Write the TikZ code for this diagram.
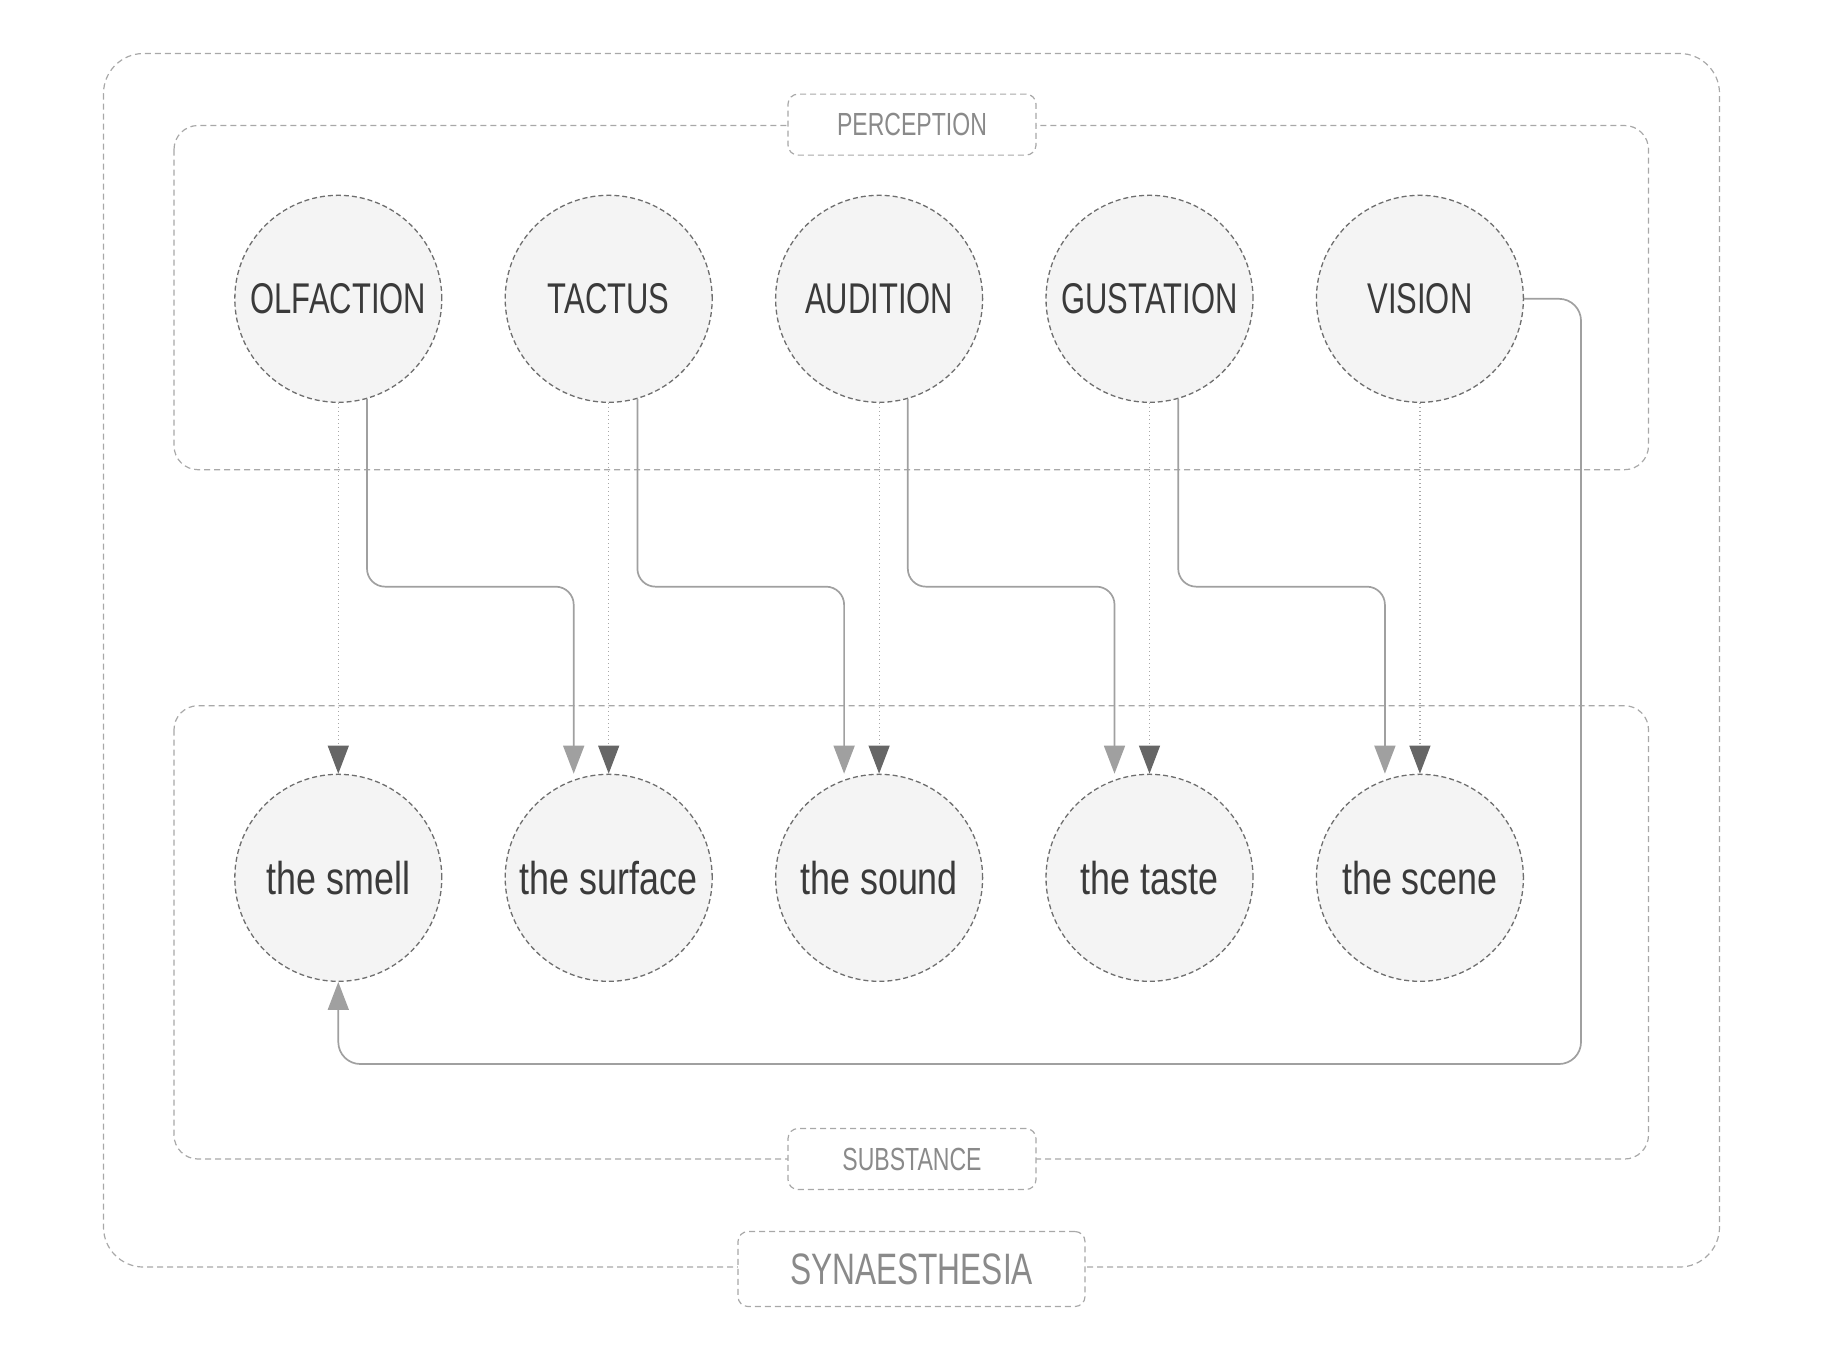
\documentclass[tikz,border=0pt]{standalone}
\usepackage{fontspec}
\setmainfont{Liberation Sans}[FakeStretch=0.78]
\newfontfamily\capsfont{Liberation Sans}[FakeStretch=0.72]
\usetikzlibrary{positioning, arrows.meta, calc}

\definecolor{ringline}{HTML}{6E6E6E}
\definecolor{ringfill}{HTML}{F4F4F4}
\definecolor{frameline}{HTML}{A8A8A8}
\definecolor{labeltext}{HTML}{8A8A8A}
\definecolor{sensetext}{HTML}{3A3A3A}
\definecolor{flowline}{HTML}{A0A0A0}
\definecolor{hintline}{HTML}{A8A8A8}
\definecolor{hinttip}{HTML}{666666}

\begin{document}
\begin{tikzpicture}[x=0.5pt, y=-0.5pt, node distance=135.2pt,
    sense/.style={circle, draw=ringline, fill=ringfill, line width=0.65pt,
      dash pattern=on 2.5pt off 1.5pt, minimum size=103.5pt, inner sep=0pt,
      text=sensetext},
    frame/.style={draw=frameline, line width=0.6pt, dash pattern=on 3pt off 2pt},
    tag/.style={frame, fill=white, rounded corners=5pt, text=labeltext,
      minimum width=124pt, minimum height=30.5pt, font=\capsfont\fontsize{16}{18}\selectfont},
    flow/.style={draw=flowline, line width=0.85pt, rounded corners=9pt,
      -{Triangle[length=14pt, width=10.5pt, color=flowline, fill=flowline]}},
    hint/.style={draw=hintline, line width=0.6pt, dash pattern=on 0.6pt off 1.4pt,
      -{Triangle[length=14pt, width=10.5pt, color=hinttip, fill=hinttip]}}]

  \useasboundingbox (0,0) rectangle (1823,1367);

  % frames
  \draw[frame, rounded corners=20pt] (103.5,53.5) rectangle (1719.5,1267);
  \draw[frame, rounded corners=12pt] (174,125.5) rectangle (1648.5,469.7);
  \draw[frame, rounded corners=12pt] (174,705.7) rectangle (1648.5,1159);

  \node[tag] (perception) at (912,124.6) {PERCEPTION};
  \node[tag] (substance) at (912,1159) {SUBSTANCE};
  \node[tag, minimum width=173.5pt, minimum height=37.5pt,
    font=\capsfont\fontsize{22}{24}\selectfont] (synaesthesia) at (911.5,1269) {SYNAESTHESIA};

  % the senses
  \node[sense, font=\capsfont\fontsize{21.5}{24}\selectfont] (olf) at (338.3,298.8) {OLFACTION};
  \node[sense, font=\capsfont\fontsize{21.5}{24}\selectfont, right of=olf] (tac) {TACTUS};
  \node[sense, font=\capsfont\fontsize{21.5}{24}\selectfont, right of=tac] (aud) {AUDITION};
  \node[sense, font=\capsfont\fontsize{21.5}{24}\selectfont, right of=aud] (gus) {GUSTATION};
  \node[sense, font=\capsfont\fontsize{21.5}{24}\selectfont, right of=gus] (vis) {VISION};

  % what they meet
  \node[sense, font=\fontsize{23}{26}\selectfont] (smell) at (338.3,877.8) {the smell};
  \node[sense, font=\fontsize{23}{26}\selectfont, right of=smell] (surf) {the surface};
  \node[sense, font=\fontsize{23}{26}\selectfont, right of=surf] (sound) {the sound};
  \node[sense, font=\fontsize{23}{26}\selectfont, right of=sound] (taste) {the taste};
  \node[sense, font=\fontsize{23}{26}\selectfont, right of=taste] (scene) {the scene};

  % direct links
  \draw[hint] (olf.south) -- (smell.north);
  \draw[hint] (tac.south) -- (surf.north);
  \draw[hint] (aud.south) -- (sound.north);
  \draw[hint] (gus.south) -- (taste.north);
  \draw[hint] (vis.south) -- (scene.north);

  % crossed links
  \draw[flow] (olf.-74) |- ($(surf.north)+(-35,-187)$) -- ($(surf.north)+(-35,0)$);
  \draw[flow] (tac.-74) |- ($(sound.north)+(-35,-187)$) -- ($(sound.north)+(-35,0)$);
  \draw[flow] (aud.-74) |- ($(taste.north)+(-35,-187)$) -- ($(taste.north)+(-35,0)$);
  \draw[flow] (gus.-74) |- ($(scene.north)+(-35,-187)$) -- ($(scene.north)+(-35,0)$);

  \coordinate (loopc) at (1581,1064);
  \draw[flow, rounded corners=11pt] (vis.east) -| (loopc) -| (smell.south);

\end{tikzpicture}
\end{document}
